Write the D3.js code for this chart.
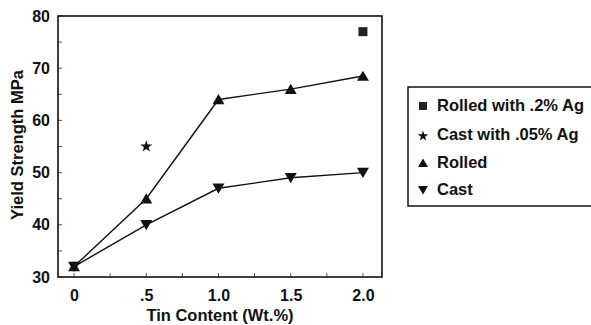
<!DOCTYPE html>
<html><head><meta charset="utf-8">
<script src="https://cdn.jsdelivr.net/npm/d3@7"></script>
<style>body{margin:0;background:#fff}svg{display:block;font-family:"Liberation Sans",Arial,sans-serif;font-weight:bold}</style>
</head><body><svg id="c" width="591" height="325"></svg>
<script>
const tin = [0, 0.5, 1.0, 1.5, 2.0];
const rolled = [32, 45, 64, 66, 68.5];
const cast = [32, 40, 47, 49, 50];
const castAg = [{x: 0.5, y: 55}];
const rolledAg = [{x: 2.0, y: 77}];
const xTicks = [0, 0.5, 1.0, 1.5, 2.0];
const xTickLabels = ["0", ".5", "1.0", "1.5", "2.0"];
const yTicks = [30, 40, 50, 60, 70, 80];
const legendLabels = ["Rolled with .2% Ag", "Cast with .05% Ag", "Rolled", "Cast"];

const svg = d3.select("#c");
const L = 58, R = 382, T = 16, B = 277;
const x = d3.scaleLinear().domain([-0.111, 2.132]).range([L, R]);
const y = d3.scaleLinear().domain([30, 80]).range([B, T]);
const FF = "Liberation Sans, Arial, sans-serif";

// minor ticks inside
const g = svg.append("g");
d3.range(0, 2.01, 0.25).forEach(v => {
  g.append("line").attr("x1", x(v)).attr("x2", x(v)).attr("y1", B).attr("y2", B - 4).attr("stroke", "#555").attr("stroke-width", 1);
});
d3.range(30, 80.1, 5).forEach(v => {
  g.append("line").attr("x1", L).attr("x2", L + 4).attr("y1", y(v)).attr("y2", y(v)).attr("stroke", "#555").attr("stroke-width", 1);
});

const xAxis = svg.append("g").attr("transform", `translate(0,${B})`)
  .call(d3.axisBottom(x).tickValues(xTicks).tickFormat((d, i) => xTickLabels[i]).tickSize(0).tickPadding(13));
xAxis.select(".domain").remove();
xAxis.selectAll("text").attr("font-size", 16).attr("font-weight", "bold").attr("fill", "#111").attr("font-family", FF);
const yAxis = svg.append("g").attr("transform", `translate(${L},0)`)
  .call(d3.axisLeft(y).tickValues(yTicks).tickFormat(d3.format("d")).tickSize(0).tickPadding(8));
yAxis.select(".domain").remove();
yAxis.selectAll("text").attr("font-size", 16).attr("font-weight", "bold").attr("fill", "#111").attr("font-family", FF);

svg.append("rect").attr("x", L).attr("y", T).attr("width", R - L).attr("height", B - T)
  .attr("fill", "none").attr("stroke", "#111").attr("stroke-width", 1.6);

svg.append("text").attr("transform", `translate(23,${(68 + 222) / 2}) rotate(-90)`).attr("text-anchor", "middle")
  .attr("font-size", 16.5).attr("fill", "#111").text("Yield Strength MPa");
svg.append("text").attr("x", 220).attr("y", 321).attr("text-anchor", "middle")
  .attr("font-size", 16.5).attr("fill", "#111").text("Tin Content (Wt.%)");

const line = d3.line().x(d => x(d[0])).y(d => y(d[1]));
const rolledPts = tin.map((t, i) => [t, rolled[i]]);
const castPts = tin.map((t, i) => [t, cast[i]]);
[rolledPts, castPts].forEach(p => svg.append("path").attr("d", line(p)).attr("fill", "none").attr("stroke", "#111").attr("stroke-width", 1.4));

function triDown(cx, cy, s) { return `M${cx - s},${cy - s * 0.8}L${cx + s},${cy - s * 0.8}L${cx},${cy + s * 0.9}Z`; }
function triUpP(cx, cy, s) { return `M${cx - s},${cy + s * 0.8}L${cx + s},${cy + s * 0.8}L${cx},${cy - s * 0.9}Z`; }

rolledPts.forEach(p => svg.append("path").attr("d", triUpP(x(p[0]), y(p[1]), 6)).attr("fill", "#111"));
castPts.forEach(p => svg.append("path").attr("d", triDown(x(p[0]), y(p[1]), 6)).attr("fill", "#111"));
castAg.forEach(p => svg.append("path").attr("transform", `translate(${x(p.x)},${y(p.y)})`).attr("d", d3.symbol().type(d3.symbolStar).size(45)()).attr("fill", "#111"));
rolledAg.forEach(p => svg.append("rect").attr("x", x(p.x) - 4.5).attr("y", y(p.y) - 4.5).attr("width", 9).attr("height", 9).attr("fill", "#222"));

const lg = svg.append("g");
lg.append("rect").attr("x", 408).attr("y", 87).attr("width", 190).attr("height", 119).attr("fill", "none").attr("stroke", "#111").attr("stroke-width", 1.5);
const ly = [105, 134, 162, 189];
legendLabels.forEach((t, i) => {
  lg.append("text").attr("x", 437).attr("y", ly[i] + 6).attr("font-size", 16.5).attr("fill", "#111").text(t);
  const cx = 423, cy = ly[i] + 1;
  if (i === 0) lg.append("rect").attr("x", cx - 4).attr("y", cy - 4).attr("width", 8).attr("height", 8).attr("fill", "#222");
  if (i === 1) lg.append("path").attr("transform", `translate(${cx},${cy + 1})`).attr("d", d3.symbol().type(d3.symbolStar).size(35)()).attr("fill", "#111");
  if (i === 2) lg.append("path").attr("d", triUpP(cx, cy, 5)).attr("fill", "#111");
  if (i === 3) lg.append("path").attr("d", triDown(cx, cy, 5)).attr("fill", "#111");
});
</script></body></html>
